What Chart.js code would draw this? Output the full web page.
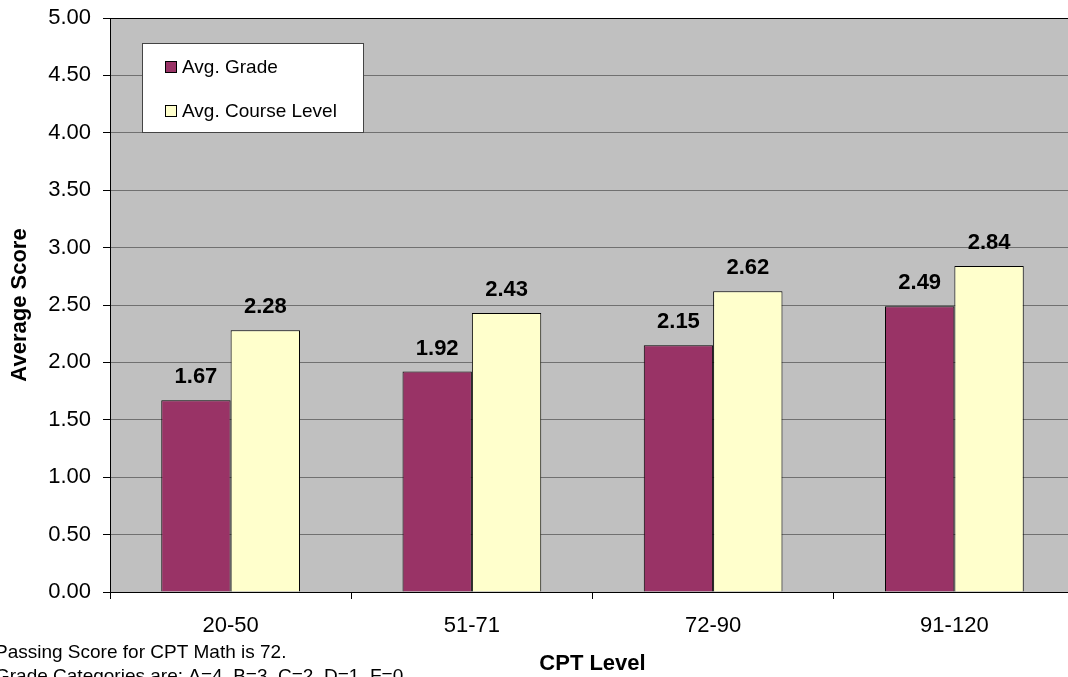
<!DOCTYPE html>
<html>
<head>
<meta charset="utf-8">
<script src="https://cdn.jsdelivr.net/npm/chart.js@4"></script>
<style>
  html, body { margin: 0; padding: 0; background: #fff; overflow: hidden; }
  #wrap { width: 1080px; height: 677px; }
</style>
</head>
<body>
<div id="wrap"><canvas id="myChart" width="1080" height="677"></canvas></div>
<script>
const categories = ['20-50', '51-71', '72-90', '91-120'];
const avgGrade = [1.67, 1.92, 2.15, 2.49];
const avgCourseLevel = [2.28, 2.43, 2.62, 2.84];
const yTicks = [0, 0.5, 1, 1.5, 2, 2.5, 3, 3.5, 4, 4.5, 5];
const notes = ['Passing Score for CPT Math is 72.', 'Grade Categories are: A=4, B=3, C=2, D=1, F=0'];

const FONT = "'Liberation Sans', Arial, sans-serif";

// gray plot background + black frame
const plotArea = {
    id: 'plotArea',
    beforeDraw(chart) {
        const {ctx, chartArea: a} = chart;
        ctx.save();
        ctx.fillStyle = '#c0c0c0';
        ctx.fillRect(a.left, a.top, a.right - a.left, a.bottom - a.top);
        ctx.restore();
    },
    afterDatasetsDraw(chart) {
        const {ctx, chartArea: a} = chart;
        ctx.save();
        ctx.strokeStyle = '#000';
        ctx.lineWidth = 1;
        ctx.strokeRect(a.left + 0.5, a.top + 0.5, a.right - a.left, a.bottom - a.top);
        ctx.restore();
    }
};

// value labels above bars
const valueLabels = {
    id: 'valueLabels',
    afterDatasetsDraw(chart) {
        const {ctx} = chart;
        ctx.save();
        ctx.font = 'bold 22px ' + FONT;
        ctx.fillStyle = '#000';
        ctx.textAlign = 'center';
        ctx.textBaseline = 'alphabetic';
        chart.data.datasets.forEach((ds, i) => {
            chart.getDatasetMeta(i).data.forEach((bar, j) => {
                ctx.fillText(ds.data[j].toFixed(2), bar.x, bar.y - 17);
            });
        });
        ctx.restore();
    }
};

// boxed legend inside the plot, plus footnotes
const boxLegend = {
    id: 'boxLegend',
    afterDraw(chart) {
        const {ctx, chartArea: a} = chart;
        const x = a.left + 32, y = a.top + 25, w = 221, h = 89;
        ctx.save();
        ctx.fillStyle = '#fff';
        ctx.fillRect(x, y, w, h);
        ctx.strokeStyle = '#444';
        ctx.lineWidth = 1;
        ctx.strokeRect(x + 0.5, y + 0.5, w, h);
        ctx.font = '19px ' + FONT;
        ctx.textBaseline = 'middle';
        chart.data.datasets.forEach((ds, i) => {
            const cy = y + 24 + i * 44;
            ctx.fillStyle = ds.backgroundColor;
            ctx.fillRect(x + 23, cy - 6, 12, 12);
            ctx.strokeStyle = '#000';
            ctx.strokeRect(x + 23.5, cy - 5.5, 11, 11);
            ctx.fillStyle = '#000';
            ctx.fillText(ds.label, x + 40, cy + 1);
        });
        ctx.font = '19px ' + FONT;
        ctx.textBaseline = 'alphabetic';
        notes.forEach((t, i) => ctx.fillText(t, -5, 658 + i * 24));
        ctx.restore();
    }
};

new Chart(document.getElementById('myChart'), {
    type: 'bar',
    data: {
        labels: categories,
        datasets: [
            { label: 'Avg. Grade', data: avgGrade, backgroundColor: '#993366', borderColor: '#000', borderWidth: 1 },
            { label: 'Avg. Course Level', data: avgCourseLevel, backgroundColor: '#ffffcc', borderColor: '#000', borderWidth: 1 }
        ]
    },
    options: {
        responsive: false,
        animation: false,
        devicePixelRatio: 1,
        layout: { padding: { top: 18, right: 5, left: 0, bottom: 0 } },
        datasets: { bar: { categoryPercentage: 0.575, barPercentage: 1 } },
        plugins: { legend: { display: false }, tooltip: { enabled: false } },
        scales: {
            x: {
                grid: { offset: true, drawOnChartArea: false, drawTicks: true, tickLength: 7, tickColor: '#000' },
                border: { color: '#000' },
                ticks: { color: '#000', font: { family: FONT, size: 22 }, padding: 14 },
                title: { display: true, text: 'CPT Level', color: '#000', font: { family: FONT, size: 22, weight: 'bold' }, padding: { top: 4, bottom: 0 } },
                afterFit: (s) => { s.height = 85; }
            },
            y: {
                min: 0, max: 5,
                afterBuildTicks: (s) => { s.ticks = yTicks.map(v => ({value: v})); },
                grid: { color: '#707070', tickLength: 7, tickColor: '#000' },
                border: { color: '#000' },
                ticks: { color: '#000', font: { family: FONT, size: 22 }, padding: 12, callback: (v) => Number(v).toFixed(2) },
                title: { display: true, text: 'Average Score', color: '#000', font: { family: FONT, size: 22, weight: 'bold' }, padding: { top: 7, bottom: 0 } },
                afterFit: (s) => { s.width = 110; s.paddingTop = 0; s.paddingBottom = 0; }
            }
        }
    },
    plugins: [plotArea, valueLabels, boxLegend]
});
</script>
</body>
</html>
